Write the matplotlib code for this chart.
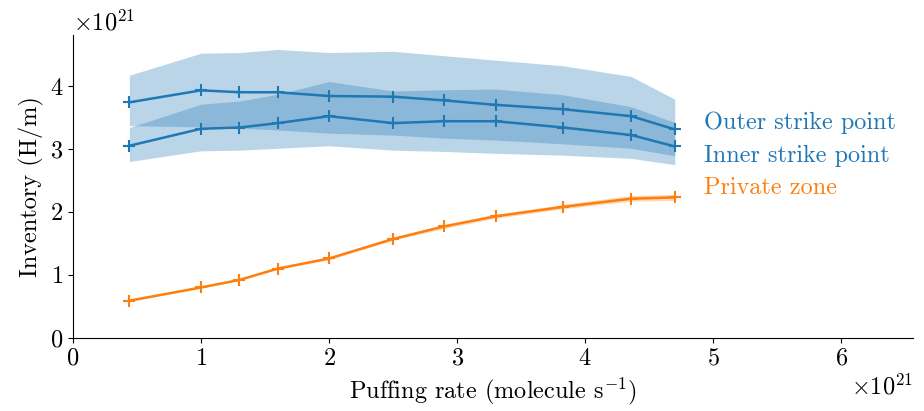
import numpy as np
import matplotlib
matplotlib.use('Agg')
from matplotlib import pyplot as plt

plt.rcParams['font.family'] = 'serif'
plt.rcParams['font.serif'] = ['cmr10']
plt.rcParams['mathtext.fontset'] = 'cm'
plt.rcParams['axes.formatter.use_mathtext'] = True
plt.rcParams['axes.unicode_minus'] = False
plt.rcParams['font.size'] = 17.5

# puffing rate (1e21 molecule/s)
puff = np.array([0.44, 1.0, 1.3, 1.6, 2.0, 2.5, 2.9, 3.3, 3.83, 4.36, 4.7]) * 1e21

# inventories (1e21 H/m)
outer_mean = np.array([3.74, 3.93, 3.90, 3.90, 3.84, 3.83, 3.77, 3.70, 3.63, 3.52, 3.31]) * 1e21
outer_high = np.array([4.17, 4.52, 4.53, 4.58, 4.53, 4.55, 4.48, 4.41, 4.32, 4.15, 3.79]) * 1e21
outer_low = np.array([3.37, 3.35, 3.33, 3.30, 3.25, 3.22, 3.17, 3.14, 3.08, 3.01, 2.89]) * 1e21

inner_mean = np.array([3.05, 3.32, 3.34, 3.41, 3.52, 3.41, 3.44, 3.44, 3.34, 3.22, 3.04]) * 1e21
inner_high = np.array([3.34, 3.71, 3.76, 3.87, 4.07, 3.92, 3.94, 3.95, 3.86, 3.67, 3.42]) * 1e21
inner_low = np.array([2.80, 2.97, 2.98, 3.01, 3.05, 2.98, 2.96, 2.93, 2.90, 2.85, 2.75]) * 1e21

private_mean = np.array([0.59, 0.80, 0.92, 1.10, 1.26, 1.57, 1.77, 1.93, 2.08, 2.21, 2.23]) * 1e21
private_high = np.array([0.60, 0.81, 0.93, 1.11, 1.28, 1.59, 1.80, 1.96, 2.12, 2.26, 2.28]) * 1e21
private_low = np.array([0.58, 0.79, 0.91, 1.09, 1.24, 1.55, 1.74, 1.90, 2.05, 2.17, 2.18]) * 1e21

blue = 'tab:blue'
orange = 'tab:orange'

fig = plt.figure(figsize=(9.24, 4.11), dpi=100)
ax = fig.add_axes([0.079, 0.178, 0.909, 0.737])

ax.fill_between(puff, outer_low, outer_high, color=blue, alpha=0.3, lw=0)
ax.plot(puff, outer_mean, color=blue, marker='+', ms=9, mew=1.5, lw=1.8)
ax.fill_between(puff, inner_low, inner_high, color=blue, alpha=0.3, lw=0)
ax.plot(puff, inner_mean, color=blue, marker='+', ms=9, mew=1.5, lw=1.8)
ax.fill_between(puff, private_low, private_high, color=orange, alpha=0.3, lw=0)
ax.plot(puff, private_mean, color=orange, marker='+', ms=9, mew=1.5, lw=1.8)

ax.text(4.93e21, 3.41e21, 'Outer strike point', color=blue, va='center', ha='left')
ax.text(4.93e21, 2.89e21, 'Inner strike point', color=blue, va='center', ha='left')
ax.text(4.93e21, 2.38e21, 'Private zone', color=orange, va='center', ha='left')

ax.set_xlim(0, 6.56e21)
ax.set_ylim(0, 4.81e21)
ax.set_xticks(np.arange(0, 7) * 1e21)
ax.set_yticks(np.arange(0, 5) * 1e21)
ax.spines['top'].set_visible(False)
ax.spines['right'].set_visible(False)
ax.set_xlabel(r'Puffing rate (molecule s$^{-1}$)')
ax.set_ylabel('Inventory (H/m)')

plt.savefig('out.png', dpi=100)
